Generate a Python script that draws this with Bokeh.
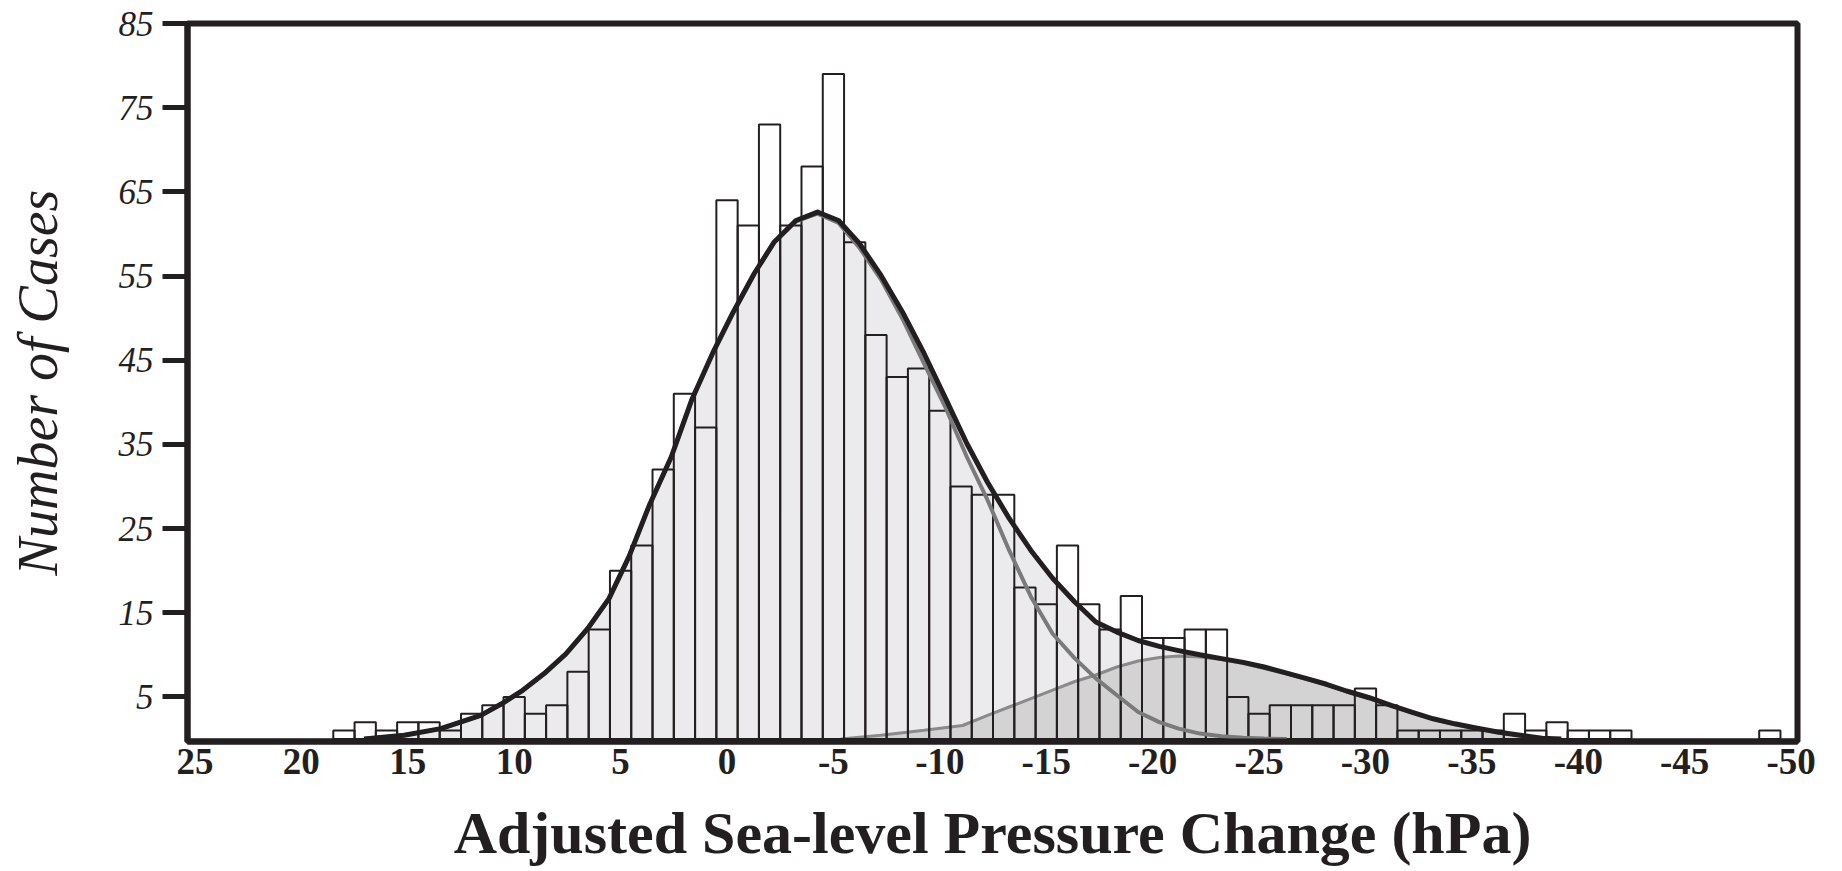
from bokeh.plotting import figure
from bokeh.models import Range1d, FixedTicker, ColumnDataSource
from bokeh.embed import file_html
from bokeh.resources import INLINE

# ---- data ----
bin_centers = [18, 17, 16, 15, 14, 13, 12, 11, 10, 9, 8, 7, 6, 5, 4, 3, 2, 1, 0,
               -1, -2, -3, -4, -5, -6, -7, -8, -9, -10, -11, -12, -13, -14, -15,
               -16, -17, -18, -19, -20, -21, -22, -23, -24, -25, -26, -27, -28,
               -29, -30, -31, -32, -33, -34, -35, -36, -37, -38, -39, -40, -41,
               -42, -49]
bin_counts = [1, 2, 1, 2, 2, 1, 3, 4, 5, 3, 4, 8, 13, 20, 23, 32, 41, 37, 64,
              61, 73, 61, 68, 79, 59, 48, 43, 44, 39, 30, 29, 29, 18, 16,
              23, 16, 13, 17, 12, 12, 13, 13, 5, 3, 4, 4, 4,
              4, 6, 4, 1, 1, 1, 1, 1, 3, 1, 2, 1, 1,
              1, 1]

# total fitted curve (black)
total_x = [17.05, 15.17, 13.45, 11.57, 10.63, 9.6, 8.59, 7.57, 6.55, 5.54, 4.6,
           3.66, 2.62, 1.67, 0.68, -0.29, -1.28, -2.22, -3.24, -4.25, -5.24,
           -6.21, -7.23, -8.25, -9.26, -10.28, -11.27, -12.24, -13.26, -14.28,
           -15.3, -16.33, -17.33, -18.32, -19.32, -20.31, -21.22, -22.22,
           -23.24, -24.26, -25.24, -26.26, -27.2, -28.17, -29.11, -30.18,
           -31.2, -32.17, -33.18, -34.2, -35.19, -36.21, -37.27, -38.3, -39.2]
total_y = [0.0, 0.44, 1.23, 2.81, 4.12, 5.78, 7.77, 10.1, 13.1, 16.7, 21.7,
           27.7, 33.5, 40.2, 45.8, 50.7, 55.3, 59.05, 61.6, 62.6, 61.6,
           58.9, 55.1, 50.7, 45.8, 40.4, 35.1, 30.5, 26.2, 22.4,
           19.1, 16.3, 13.9, 12.7, 11.7, 11.0, 10.5, 10.0,
           9.55, 9.1, 8.55, 7.85, 7.2, 6.5, 5.7, 4.9,
           4.0, 3.2, 2.4, 1.8, 1.3, 0.83, 0.44, 0.1, 0.0]

# first component (grey line)
comp1_x = [17.05, 15.17, 13.45, 11.57, 10.63, 9.6, 8.59, 7.57, 6.55, 5.54, 4.6,
           3.66, 2.62, 1.67, 0.68, -0.29, -1.28, -2.22, -3.24, -4.25, -5.24,
           -6.21, -7.23, -8.25, -9.26, -10.28, -11.27, -12.24, -13.26, -14.28,
           -15.3, -16.33, -17.33, -18.32, -19.32, -20.31, -21.22, -22.22,
           -23.24, -24.26, -25.24, -26.3]
comp1_y = [0.0, 0.44, 1.23, 2.81, 4.12, 5.78, 7.77, 10.1, 13.1, 16.7, 21.7,
           27.7, 33.5, 40.2, 45.8, 50.7, 55.3, 59.0, 61.5, 62.4, 61.3,
           58.4, 54.6, 49.9, 44.6, 39.3, 33.5, 28.4, 22.4, 16.9,
           12.5, 9.6, 7.2, 5.2, 3.2, 2.0, 1.23, 0.64,
           0.32, 0.15, 0.05, 0.0]

# second component (dark grey area)
comp2_x = [-5.35, -7.23, -9.26, -11.07, -12.24, -13.26, -14.28, -15.3, -16.31,
           -17.33, -18.32, -19.32, -20.31, -21.22, -22.22, -23.24, -24.26,
           -25.24, -26.26, -27.2, -28.17, -29.11, -30.18, -31.2, -32.17,
           -33.18, -34.2, -35.19, -36.21, -37.27, -38.3, -39.2]
comp2_y = [0.0, 0.44, 1.03, 1.6, 2.8, 3.8, 4.8, 5.8, 6.8,
           7.6, 8.55, 9.27, 9.67, 9.86, 9.74, 9.43, 8.96,
           8.36, 7.75, 7.1, 6.4, 5.6, 4.8, 3.9, 3.1,
           2.3, 1.7, 1.2, 0.75, 0.38, 0.05, 0.0]

x_ticks = [25, 20, 15, 10, 5, 0, -5, -10, -15, -20, -25, -30, -35, -40, -45, -50]
y_ticks = [5, 15, 25, 35, 45, 55, 65, 75, 85]

x_title = "Adjusted Sea-level Pressure Change (hPa)"
y_title = "Number of Cases"

# ---- figure ----
DARK = "#231f20"
p = figure(width=1842, height=871, output_backend="svg", toolbar_location=None,
           x_range=Range1d(25.35, -50.3), y_range=Range1d(-0.3, 85),
           min_border_left=187, min_border_right=45, min_border_top=23,
           min_border_bottom=130)
p.background_fill_color = "white"
p.border_fill_color = "white"
p.grid.visible = False
p.outline_line_color = DARK
p.outline_line_width = 6

bars = ColumnDataSource(dict(
    left=[c + 0.5 for c in bin_centers],
    right=[c - 0.5 for c in bin_centers],
    top=bin_counts,
    bottom=[0] * len(bin_counts),
))

p.varea(x=total_x, y1=[0] * len(total_x), y2=total_y, fill_color="#ebebed")
p.varea(x=comp2_x, y1=[0] * len(comp2_x), y2=comp2_y, fill_color="#d3d3d4")
p.line(comp2_x, comp2_y, line_color="#8a8a8a", line_width=3)
p.quad(left="left", right="right", top="top", bottom="bottom", source=bars,
       fill_alpha=0, line_color=DARK, line_width=2)
p.line(comp1_x, comp1_y, line_color="#7a7a7a", line_width=4)
p.line(total_x, total_y, line_color=DARK, line_width=5, line_join="round")

# x axis
xa = p.xaxis[0]
xa.ticker = FixedTicker(ticks=x_ticks)
xa.major_label_overrides = {t: str(t) for t in x_ticks}
xa.axis_line_color = DARK
xa.axis_line_width = 6
xa.major_tick_out = 0
xa.major_tick_in = 0
xa.minor_tick_out = 0
xa.minor_tick_in = 0
xa.major_label_text_font = "Liberation Serif"
xa.major_label_text_font_style = "bold"
xa.major_label_text_font_size = "37px"
xa.major_label_text_color = DARK
xa.major_label_standoff = 7
xa.axis_label = x_title
xa.axis_label_text_font = "Liberation Serif"
xa.axis_label_text_font_style = "bold"
xa.axis_label_text_font_size = "60px"
xa.axis_label_text_color = DARK
xa.axis_label_standoff = 23

# y axis
ya = p.yaxis[0]
ya.ticker = FixedTicker(ticks=y_ticks)
ya.axis_line_color = DARK
ya.axis_line_width = 6
ya.major_tick_out = 25
ya.major_tick_in = 0
ya.major_tick_line_width = 5
ya.major_tick_line_color = DARK
ya.minor_tick_out = 0
ya.minor_tick_in = 0
ya.major_label_text_font = "Liberation Serif"
ya.major_label_text_font_style = "italic"
ya.major_label_text_font_size = "35px"
ya.major_label_text_color = DARK
ya.major_label_standoff = 9
ya.axis_label = y_title
ya.axis_label_text_font = "Liberation Serif"
ya.axis_label_text_font_style = "italic"
ya.axis_label_text_font_size = "56px"
ya.axis_label_text_color = DARK
ya.axis_label_standoff = 47

open("out.html", "w").write(file_html(p, INLINE))
